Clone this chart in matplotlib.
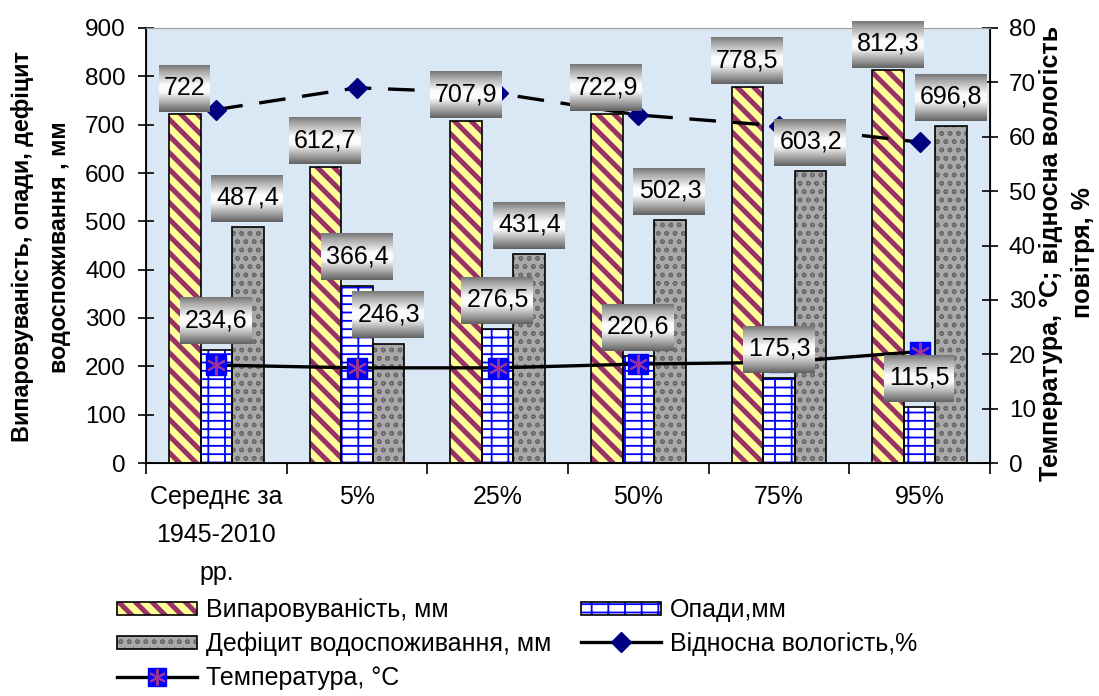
import numpy as np
import matplotlib
matplotlib.use('Agg')
import matplotlib.pyplot as plt
import matplotlib.patches as mpatches
from matplotlib.lines import Line2D
from matplotlib.legend_handler import HandlerTuple, HandlerPatch

plt.rcParams['font.family'] = ['Liberation Sans', 'DejaVu Sans']

categories = ['Середнє за\n1945-2010\nрр.', '5%', '25%', '50%', '75%', '95%']
evaporation = [722, 612.7, 707.9, 722.9, 778.5, 812.3]
precipitation = [234.6, 366.4, 276.5, 220.6, 175.3, 115.5]
deficit = [487.4, 246.3, 431.4, 502.3, 603.2, 696.8]
humidity = [65, 69, 68, 64, 62, 59]
temperature = [18.0, 17.5, 17.5, 18.2, 18.5, 20.5]

W, H = 1099, 696
fig = plt.figure(figsize=(W / 100, H / 100), dpi=100)
ax = fig.add_axes([146 / W, 1 - 463 / H, (990 - 146) / W, (463 - 28) / H])
ax.set_facecolor('#dae8f6')

x = np.arange(len(categories))
bw = 0.225

EVAP = dict(face='#ffff99', hc='#993366', hatch='\\\\', hlw=3.6)
PREC = dict(face='white', hc='#0000ff', hatch='+-', hlw=1.3)
DEFI = dict(face='#a9a9a9', hc='#6a6a6a', hatch='oo', hlw=1.0)


def textured_bars(xpos, vals, st, z):
    plt.rcParams['hatch.linewidth'] = st['hlw']
    bars = ax.bar(xpos, vals, bw, color=st['face'], edgecolor=st['hc'], hatch=st['hatch'],
                  linewidth=0, zorder=z)
    for p in bars:
        try:
            p.set_hatch_linewidth(st['hlw'])
        except AttributeError:
            pass
    ax.bar(xpos, vals, bw, fill=False, edgecolor='black', linewidth=1.2, zorder=z + 0.1)


textured_bars(x - bw, evaporation, EVAP, 2)
textured_bars(x, precipitation, PREC, 2)
textured_bars(x + bw, deficit, DEFI, 2)
plt.rcParams['hatch.linewidth'] = 1.0

ax.set_xlim(-0.5, 5.5)
ax.set_ylim(0, 900)
ax.set_yticks(np.arange(0, 901, 100))
ax.set_xticks(x, categories)
ax.set_xticks(np.arange(-0.5, 6, 1), minor=True)
ax.tick_params(axis='x', which='major', length=0, labelsize=18, pad=16)
ax.tick_params(axis='x', which='minor', length=8, width=1.2, direction='out')
ax.tick_params(axis='y', direction='inout', length=11, width=1.2, labelsize=17.5, pad=9)
for lab in ax.get_xticklabels():
    lab.set_linespacing(1.72)
ax.spines['top'].set_color('#a0a0a0')
for s in ['left', 'bottom']:
    ax.spines[s].set_linewidth(1.3)

ax2 = ax.twinx()
ax2.set_ylim(0, 80)
ax2.set_xlim(-0.5, 5.5)
ax2.set_yticks(np.arange(0, 81, 10))
ax2.tick_params(axis='y', direction='inout', length=11, width=1.2, labelsize=17.5, pad=8)
ax2.spines['right'].set_linewidth(1.3)
ax2.spines['top'].set_color('#a0a0a0')

ax2.plot(x, humidity, color='black', lw=2.4, dashes=(8, 5), marker='D', ms=10,
         mfc='#000080', mec='#000080', zorder=3)
ax2.plot(x, temperature, color='black', lw=2.4, marker='s', ms=15,
         mfc='#0000ff', mec='#0000ff', zorder=3)
ax2.plot(x, temperature, ls='none', marker=(6, 2, 0), ms=14, mec='#993399',
         mew=1.5, zorder=4)

# gradient label boxes
renderer = fig.canvas.get_renderer()
box_h = 47
prof = np.interp(np.linspace(0, 1, box_h), [0, 0.12, 0.42, 0.58, 1],
                 [120, 165, 252, 250, 100]) / 255


def label_box(xv, yv, gap):
    px, py = ax.transData.transform((xv, yv))
    s = f'{yv:g}'.replace('.', ',')
    t = fig.text(px / W, (py + gap + box_h / 2) / H, s, ha='center', va='center',
                 fontsize=18, zorder=11)
    ext = t.get_window_extent(renderer)
    wpx = int(ext.width + 10)
    img = np.dstack([np.repeat(prof[:, None], wpx, axis=1)] * 3)
    fig.figimage(img, xo=int(px - wpx / 2), yo=int(py + gap), origin='upper', zorder=10)


for i in range(len(categories)):
    label_box(x[i] - bw, evaporation[i], 3)
    label_box(x[i], precipitation[i], 6)
    label_box(x[i] + bw, deficit[i], 6)

fig.text(41 / W, 1 - 247 / H, 'Випаровуваність, опади, дефіцит\nводоспоживання , мм',
         rotation=90, ha='center', va='center', fontsize=16.8, fontweight='bold',
         multialignment='center', linespacing=1.75)
fig.text(1067 / W, 1 - 253 / H, 'Температура, °C; відносна вологість\nповітря, %',
         rotation=90, ha='center', va='center', fontsize=18, fontweight='bold',
         multialignment='center', linespacing=1.45)


def legend_patch(st):
    p = mpatches.Patch(facecolor=st['face'], edgecolor=st['hc'], hatch=st['hatch'], lw=0)
    p.hlw = st['hlw']
    return (p, mpatches.Patch(fill=False, edgecolor='black', lw=1.2))


def make_rect(legend, orig_handle, xdescent, ydescent, width, height, fontsize):
    r = mpatches.Rectangle((-xdescent, -ydescent + 1.5), width, height - 3)
    if hasattr(orig_handle, 'hlw'):
        try:
            r.set_hatch_linewidth(orig_handle.hlw)
        except AttributeError:
            pass
    return r


h_evap = legend_patch(EVAP)
h_prec = legend_patch(PREC)
h_def = legend_patch(DEFI)
h_hum = Line2D([], [], color='black', lw=2.4, marker='D', ms=10, mfc='#000080', mec='#000080')
h_tmp = (Line2D([], [], color='black', lw=2.4, marker='s', ms=13, mfc='#0000ff', mec='#0000ff'),
         Line2D([], [], ls='none', marker=(6, 2, 0), ms=12, mec='#993399', mew=1.5))

handles = [h_evap, h_def, h_tmp, h_prec, h_hum]
labels = ['Випаровуваність, мм', 'Дефіцит водоспоживання, мм', 'Температура, °C',
          'Опади,мм', 'Відносна вологість,%']
fig.legend(handles, labels, ncol=2, loc='upper left', bbox_to_anchor=(117 / W, 1 - 598 / H),
           frameon=False, fontsize=18, handlelength=3.2, handletextpad=0.35,
           columnspacing=1.2, labelspacing=0.4, borderpad=0, borderaxespad=0,
           handler_map={tuple: HandlerTuple(ndivide=1, pad=0),
                        mpatches.Patch: HandlerPatch(patch_func=make_rect)})

fig.savefig('out.png', dpi=100)
